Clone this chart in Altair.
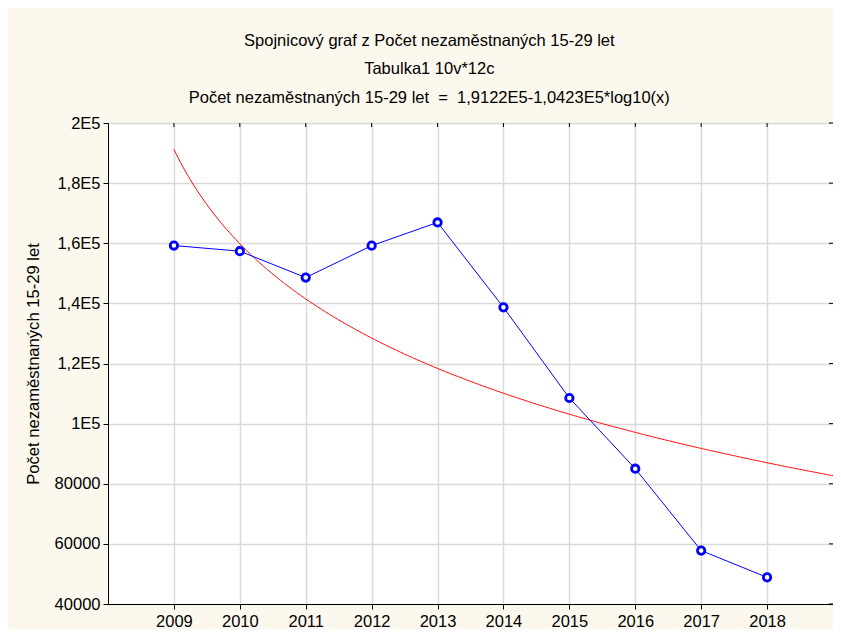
import altair as alt
import pandas as pd

# ---- data ----
years = [2009, 2010, 2011, 2012, 2013, 2014, 2015, 2016, 2017, 2018]
unemployed = [159240, 157360, 148590, 159200, 166920, 138670, 108520, 85000, 57770, 48870]

# fitted curve stated in the chart title: y = 1,9122E5 - 1,0423E5*log10(x), x = case number
fit_intercept = 191220
fit_slope = -104230

y_ticks = [40000, 60000, 80000, 100000, 120000, 140000, 160000, 180000, 200000]
y_tick_labels = ["40000", "60000", "80000", "1E5", "1,2E5", "1,4E5", "1,6E5", "1,8E5", "2E5"]

title_lines = [
    "Spojnicový graf z Počet nezaměstnaných 15-29 let",
    "Tabulka1 10v*12c",
    "Počet nezaměstnaných 15-29 let \u00a0= \u00a01,9122E5-1,0423E5*log10(x)",
]
y_title = "Počet nezaměstnaných 15-29 let"

FONT = "Liberation Sans"
W, H = 725, 481

df = pd.DataFrame({"year": years, "value": unemployed})
xticks_df = pd.DataFrame({"year": years})
yticks_df = pd.DataFrame({"value": y_ticks})

label_expr = ""
for v, lab in zip(y_ticks, y_tick_labels):
    label_expr += f"datum.value == {v} ? '{lab}' : "
label_expr += "format(datum.value, 'd')"

x_scale = alt.Scale(domain=[2008, 2019], nice=False, zero=False)
y_scale = alt.Scale(domain=[40000, 200000], nice=False, zero=False)

x_enc = alt.X("year:Q", scale=x_scale,
              axis=alt.Axis(values=years, format="d", title=None, grid=True,
                            tickSize=5, labelPadding=4))
y_enc = alt.Y("value:Q", scale=y_scale,
              axis=alt.Axis(values=y_ticks, labelExpr=label_expr, title=y_title,
                            grid=True, tickSize=5, labelPadding=3, titlePadding=13))

base = alt.Chart(df)

line = base.mark_line(color="#0000ff", strokeWidth=1).encode(x=x_enc, y=y_enc)
points = base.mark_point(shape="circle", fill="white", fillOpacity=1, stroke="#0000ff",
                         strokeWidth=2.8, size=55, opacity=1).encode(x="year:Q", y="value:Q")

fit = alt.Chart(alt.sequence(1, 11.1, 0.02, as_="i")).transform_calculate(
    year="2008 + datum.i",
    value=f"{fit_intercept} + ({fit_slope}) * log(datum.i) / LN10",
).mark_line(color="#ff0000", strokeWidth=1, clip=True).encode(x="year:Q", y="value:Q")

# small inward ticks on the top and right frame edges
top_ticks = alt.Chart(xticks_df).mark_rule(color="black", strokeWidth=1).encode(
    x="year:Q", y=alt.value(0), y2=alt.value(4)
)
right_ticks = alt.Chart(yticks_df).mark_rule(color="black", strokeWidth=1).encode(
    y="value:Q", x=alt.value(W - 4), x2=alt.value(W)
)

chart = alt.layer(fit, line, points, top_ticks, right_ticks).properties(
    width=W,
    height=H,
    autosize=alt.AutoSizeParams(type="none"),
    padding={"left": 100, "top": 115, "right": 0, "bottom": 25},
    background="#fdf8ee",
    title=alt.TitleParams(
        text=title_lines, font=FONT, fontSize=16.5, fontWeight="normal", color="black",
        lineHeight=28.5, anchor="middle", frame="bounds", offset=9,
    ),
).configure_view(
    stroke="black", strokeWidth=1, fill="white"
).configure_axis(
    labelFont=FONT, labelFontSize=16.5, labelColor="black",
    titleFont=FONT, titleFontSize=16.6, titleFontWeight="normal", titleColor="black",
    tickColor="black", domainColor="black", domainWidth=1,
    gridColor="#d9d9d9", gridWidth=1.5,
)

chart.save("out.html", embed_options={"renderer": "svg", "actions": False})
